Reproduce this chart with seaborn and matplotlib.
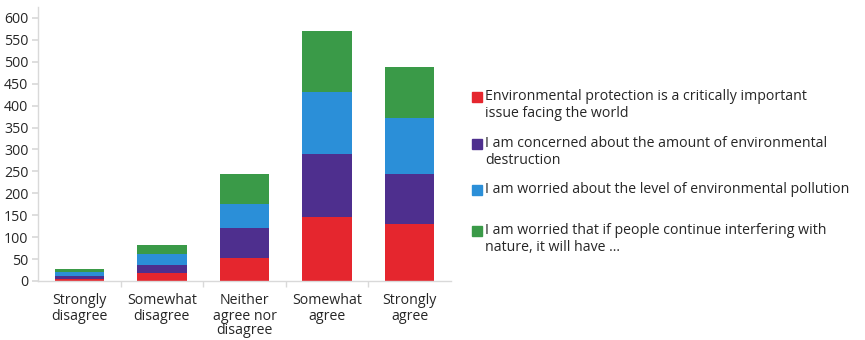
import matplotlib
matplotlib.use("Agg")
import matplotlib.pyplot as plt
from matplotlib.patches import Rectangle
import numpy as np
import pandas as pd
import seaborn as sns

categories = ["Strongly\ndisagree", "Somewhat\ndisagree", "Neither\nagree nor\ndisagree",
              "Somewhat\nagree", "Strongly\nagree"]
series_names = [
    "Environmental protection is a critically important\nissue facing the world",
    "I am concerned about the amount of environmental\ndestruction",
    "I am worried about the level of environmental pollution",
    "I am worried that if people continue interfering with\nnature, it will have ...",
]
protection = [5, 18, 53, 147, 131]
destruction = [7, 19, 68, 142, 113]
pollution = [8, 25, 54, 141, 127]
interfering = [8, 20, 70, 140, 118]
colors = ["#e5262e", "#4e2f8e", "#2b8fd8", "#3a9a48"]
y_ticks = list(range(0, 601, 50))

sns.set_theme(style="white")
plt.rcParams["font.family"] = ["Open Sans", "DejaVu Sans"]

fig = plt.figure(figsize=(8.65, 3.4), dpi=100)
ax = fig.add_axes([38 / 865, 1 - 281 / 340, 413 / 865, 274 / 340])

values = np.array([protection, destruction, pollution, interfering])
cumulative = values.cumsum(axis=0)

# stacked columns: draw the running totals from the tallest down
for i in range(len(series_names) - 1, -1, -1):
    df = pd.DataFrame({"category": categories, "total": cumulative[i]})
    sns.barplot(data=df, x="category", y="total", color=colors[i], width=0.6,
                saturation=1, linewidth=0, ax=ax)

ax.set_xlim(-0.5, 4.5)
ax.set_ylim(0, 625)
ax.set_yticks(y_ticks)
ax.set_xlabel("")
ax.set_ylabel("")
sns.despine(ax=ax)
for s in ("left", "bottom"):
    ax.spines[s].set_color("#d9d9d9")
    ax.spines[s].set_linewidth(1)

ax.tick_params(axis="y", left=True, length=4, color="#d9d9d9", labelsize=10.2,
               labelcolor="#262626", pad=3)
ax.tick_params(axis="x", bottom=False, labelsize=10.2, labelcolor="#262626", pad=3)
for lbl in ax.get_xticklabels():
    lbl.set_linespacing(1.0)
ax.set_xticks([0.5, 1.5, 2.5, 3.5], minor=True)
ax.tick_params(axis="x", which="minor", bottom=True, length=4, color="#d9d9d9")

# legend drawn beside the plot with each square on the first text line
legend_y = [97, 144, 190, 231]
for name, c, yy in zip(series_names, colors, legend_y):
    fy = 1 - yy / 340
    fig.patches.append(Rectangle((472 / 865, fy - 5 / 340), 10 / 865, 10 / 340,
                                 transform=fig.transFigure, color=c))
    fig.text(485 / 865, fy + 8 / 340, name, fontsize=10.2, color="#262626",
             va="top", ha="left", linespacing=1.15)

fig.savefig("out.png", dpi=100)
